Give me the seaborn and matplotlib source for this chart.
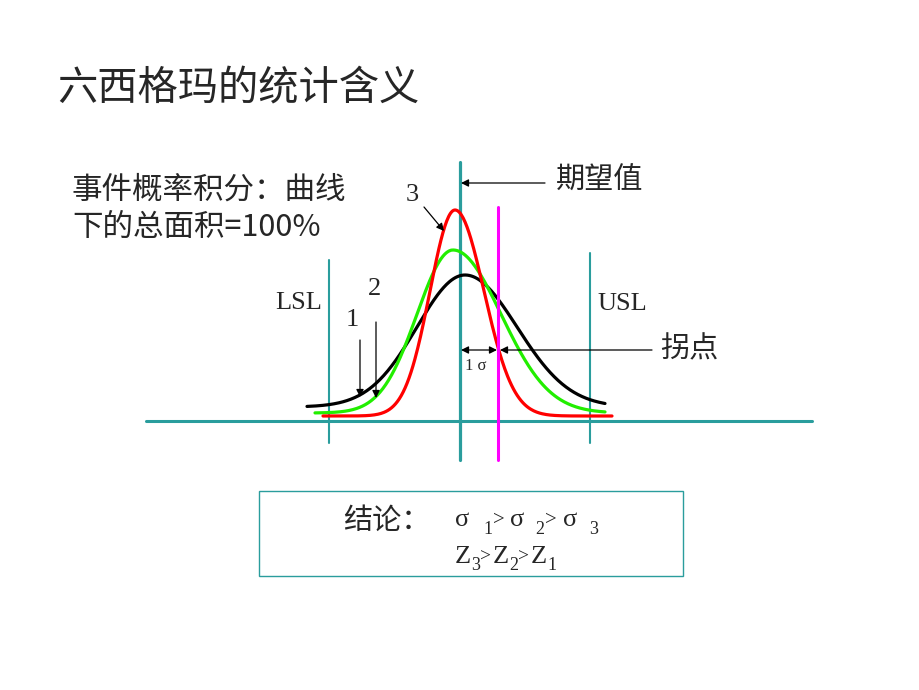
import numpy as np
import pandas as pd
import matplotlib.pyplot as plt
import seaborn as sns

# canvas is laid out in pixel units of the 920x690 slide
curve_names = ["1", "2", "3"]
curve_colors = ["#000000", "#22EE00", "#FF0000"]
curve_mean = [465, 453, 455]
curve_sigma_left = [48, 36, 25]
curve_sigma_right = [52, 48, 29]
curve_top = [275, 250, 210]
curve_base = [407, 413, 416]
curve_start = [307, 315, 323]
curve_end = [605, 605, 612]

title = "六西格玛的统计含义"
note_lines = ["事件概率积分：曲线", "下的总面积=100%"]
spec_labels = ["LSL", "USL"]
spec_x = [329, 590]
spec_top = [260, 253]
mean_x = 460
inflect_x = 498
axis_y = 421
axis_span = [146, 812]

teal = "#2A9D9D"

rows = []
for i, name in enumerate(curve_names):
    xs = np.linspace(curve_start[i], curve_end[i], 300)
    sig = np.where(xs < curve_mean[i], curve_sigma_left[i], curve_sigma_right[i])
    h = curve_base[i] - curve_top[i]
    ys = curve_base[i] - h * np.exp(-0.5 * ((xs - curve_mean[i]) / sig) ** 2)
    rows.append(pd.DataFrame({"x": xs, "y": ys, "curve": name}))
df = pd.concat(rows, ignore_index=True)

sns.set_theme(style="white")
plt.rcParams['font.family'] = ['Noto Sans CJK SC', 'DejaVu Sans']
serif = ['Liberation Serif', 'DejaVu Serif']

fig = plt.figure(figsize=(9.2, 6.9), dpi=100)
ax = fig.add_axes([0, 0, 1, 1])
ax.set_xlim(0, 920)
ax.set_ylim(690, 0)
ax.axis("off")

# reference lines
ax.plot(axis_span, [axis_y, axis_y], color=teal, lw=2.2, zorder=1)
for x, top in zip(spec_x, spec_top):
    ax.plot([x, x], [top, 443], color=teal, lw=1.5, zorder=1)
ax.plot([mean_x, mean_x], [162, 460], color=teal, lw=2.3, zorder=1)
ax.plot([inflect_x, inflect_x], [207, 460], color="#FF00FF", lw=2.2, zorder=3)

sns.lineplot(data=df, x="x", y="y", hue="curve", palette=curve_colors,
             lw=2.3, sort=False, legend=False, ax=ax, zorder=2)
ax.set_xlim(0, 920)
ax.set_ylim(690, 0)

# text
ax.text(57, 89, title, fontsize=29, va="center", ha="left")
ax.text(72, 190, note_lines[0], fontsize=22, va="center", ha="left")
ax.text(72, 227, note_lines[1], fontsize=22, va="center", ha="left")
ax.text(556, 181, "期望值", fontsize=21, va="center", ha="left")
ax.text(660, 349, "拐点", fontsize=21, va="center", ha="left")

ax.text(275, 303, spec_labels[0], fontsize=19, family=serif, va="center", ha="left")
ax.text(597, 304, spec_labels[1], fontsize=19, family=serif, va="center", ha="left")
ax.text(412, 195, "3", fontsize=19, family=serif, va="center", ha="center")
ax.text(352, 320, "1", fontsize=19, family=serif, va="center", ha="center")
ax.text(375, 289, "2", fontsize=19, family=serif, va="center", ha="center")
ax.text(465, 366, "1 σ", fontsize=12, family=serif, va="center", ha="left")

arrow = dict(arrowstyle="-|>", lw=0.9, color="black", mutation_scale=11, shrinkA=0, shrinkB=0)
ax.annotate("", xy=(461, 183), xytext=(545, 183), arrowprops=arrow)
ax.annotate("", xy=(444, 231), xytext=(424, 207), arrowprops=arrow)
ax.annotate("", xy=(360, 397), xytext=(360, 340), arrowprops=arrow)
ax.annotate("", xy=(376, 398), xytext=(376, 322), arrowprops=arrow)
ax.annotate("", xy=(500, 350), xytext=(652, 350), arrowprops=arrow)
ax.annotate("", xy=(461, 350), xytext=(497, 350),
            arrowprops=dict(arrowstyle="<|-|>", lw=0.9, color="black",
                            mutation_scale=11, shrinkA=0, shrinkB=0))

# conclusion box
ax.add_patch(plt.Rectangle((259, 491), 424, 85, fill=False, ec=teal, lw=1.0))
ax.text(343, 521, "结论：", fontsize=21, va="center", ha="left")

sigma_parts = [("σ", 455, 520, 19), ("1", 483, 530, 13), (">", 493, 520, 15),
               ("σ", 510, 520, 19), ("2", 535, 530, 13), (">", 545, 520, 15),
               ("σ", 563, 520, 19), ("3", 589, 530, 13)]
for s, x, y, fs in sigma_parts:
    ax.text(x, y, s, fontsize=fs, family=serif, va="center", ha="left")

z_parts = [("Z", 455, 557, 19), ("3", 471, 566, 13), (">", 480, 557, 14),
           ("Z", 493, 557, 19), ("2", 509, 566, 13), (">", 518, 557, 14),
           ("Z", 531, 557, 19), ("1", 547, 566, 13)]
for s, x, y, fs in z_parts:
    ax.text(x, y, s, fontsize=fs, family=serif, va="center", ha="left")

fig.savefig("out.png", dpi=100)
